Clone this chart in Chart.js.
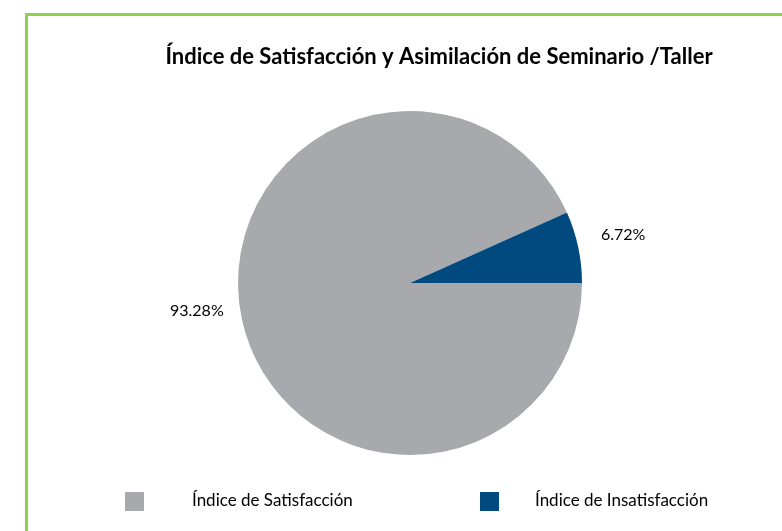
<!DOCTYPE html>
<html>
<head>
<meta charset="utf-8">
<script src="https://cdn.jsdelivr.net/npm/chart.js@4"></script>
<style>
  html, body { margin: 0; padding: 0; background: #fff; overflow: hidden; }
  #wrap { position: relative; width: 782px; height: 531px; }
  #frame { position: absolute; left: 25px; top: 13px; width: 800px; height: 560px;
           border-left: 3px solid #92D050; border-top: 3px solid #92D050; }
  canvas { position: absolute; left: 0; top: 0; }
</style>
</head>
<body>
<div id="wrap">
  <div id="frame"></div>
  <canvas id="myChart" width="782" height="531"></canvas>
</div>
<script>
var chartTitle = "Índice de Satisfacción y Asimilación de Seminario /Taller";
var categories = ["Índice de Satisfacción", "Índice de Insatisfacción"];
var values = [93.28, 6.72];
var valueLabels = ["93.28%", "6.72%"];
var colors = ["#A7A9AC", "#004A7F"];

var fontFamily = "Lato, 'Open Sans', sans-serif";

// title, outside labels and legend drawn by hand so they sit where the original has them
var decorations = {
  id: "decorations",
  afterDraw: function (chart) {
    var ctx = chart.ctx;
    ctx.save();
    ctx.fillStyle = "#000";

    ctx.font = "bold 22px " + fontFamily;
    ctx.textAlign = "center";
    ctx.textBaseline = "alphabetic";
    ctx.fillText(chartTitle, 439, 64);

    ctx.textBaseline = "middle";
    ctx.font = "16px " + fontFamily;
    var nudgeY = [-16, 0];
    var meta = chart.getDatasetMeta(0);
    meta.data.forEach(function (arc, i) {
      var p = arc.getProps(["x", "y", "startAngle", "endAngle", "outerRadius"]);
      var mid = (p.startAngle + p.endAngle) / 2;
      var r = p.outerRadius + 46;
      ctx.fillText(valueLabels[i], p.x + Math.cos(mid) * r, p.y + Math.sin(mid) * r - 2 + nudgeY[i]);
    });

    var boxX = [125, 480];
    var textX = [192, 535];
    ctx.font = "17px " + fontFamily;
    ctx.textAlign = "left";
    categories.forEach(function (name, i) {
      ctx.fillStyle = colors[i];
      ctx.fillRect(boxX[i], 492, 19, 19);
      ctx.fillStyle = "#000";
      ctx.fillText(name, textX[i], 501);
    });
    ctx.restore();
  }
};

new Chart(document.getElementById("myChart"), {
  type: "pie",
  data: {
    labels: categories,
    datasets: [{
      data: values,
      backgroundColor: colors,
      borderWidth: 0
    }]
  },
  options: {
    responsive: false,
    animation: false,
    rotation: 90,
    layout: { padding: { top: 111, bottom: 76, left: 100, right: 62 } },
    plugins: {
      legend: { display: false },
      title: { display: false },
      tooltip: { enabled: false }
    }
  },
  plugins: [decorations]
});
</script>
</body>
</html>
